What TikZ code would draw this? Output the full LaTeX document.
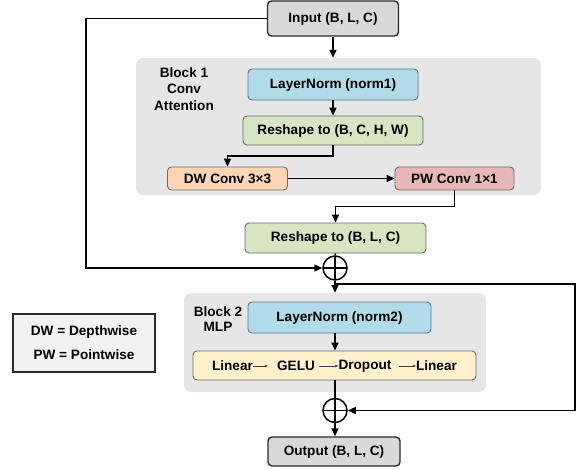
\documentclass[tikz,border=0pt]{standalone}
\usepackage{fontspec}
\setmainfont{Liberation Sans}
\usetikzlibrary{arrows.meta,calc}
\definecolor{ioFill}{HTML}{D9D9D9}
\definecolor{ioDraw}{HTML}{2B2B2B}
\definecolor{bgFill}{HTML}{E6E6E6}
\definecolor{normFill}{HTML}{B1DBE7}
\definecolor{normDraw}{HTML}{56788A}
\definecolor{rsFill}{HTML}{D8E5C3}
\definecolor{rsDraw}{HTML}{6B6B6B}
\definecolor{dwFill}{HTML}{FCD6B4}
\definecolor{pwFill}{HTML}{E8B8B8}
\definecolor{mlpFill}{HTML}{FFF1CC}
\definecolor{legFill}{HTML}{F2F2F2}
\tikzset{
  txt/.style={font=\fontsize{13.6}{16}\selectfont\bfseries, text=black},
  box/.style={txt, rounded corners=4pt, inner sep=0pt, line width=0.9pt},
  iobox/.style={box, fill=ioFill, draw=ioDraw, line width=1.4pt},
  bgbox/.style={fill=bgFill, rounded corners=7pt, inner sep=0pt},
  arr/.style={line width=1.5pt, -{Triangle[length=8pt,width=7pt]}},
  ln/.style={line width=1.5pt},
  sarr/.style={line width=0.6pt, draw=black!75, -{Triangle[length=3pt,width=2.5pt]}},
  plusnode/.style={circle, draw, line width=1.5pt, minimum size=24pt, inner sep=0pt, path picture={
    \draw[line width=1.5pt] (path picture bounding box.north) -- (path picture bounding box.south)
      (path picture bounding box.west) -- (path picture bounding box.east);}},
}
\begin{document}
\begin{tikzpicture}[x=1pt,y=-1pt]
\useasboundingbox (0,0) rectangle (578,469);
% backgrounds
\node[bgbox, minimum width=405pt, minimum height=137pt] (blk1) at (338.5,126.5) {};
\node[bgbox, minimum width=302pt, minimum height=99pt] (blk2) at (335,342.5) {};
\node[txt, align=center, font=\fontsize{13.6}{16.5}\selectfont\bfseries] (lab1) at (184,89) {Block 1\\Conv\\Attention};
\node[txt, align=center, font=\fontsize{13.6}{15}\selectfont\bfseries] (lab2) at (218,319.5) {Block 2\\MLP};
% boxes
\node[iobox, minimum width=131pt, minimum height=35pt] (input) at (333,18.5) {Input (B, L, C)};
\node[box, fill=normFill, draw=normDraw, minimum width=170pt, minimum height=31pt] (norm1) at (333,84.5) {LayerNorm (norm1)};
\node[box, fill=rsFill, draw=rsDraw, minimum width=180pt, minimum height=29pt] (rs1) at (333,130.5) {Reshape to (B, C, H, W)};
\node[box, fill=dwFill, draw=rsDraw, minimum width=120pt, minimum height=23pt] (dw) at (227.5,178.5) {DW Conv 3×3};
\node[box, fill=pwFill, draw=rsDraw, minimum width=119pt, minimum height=23pt] (pw) at (454.5,178.5) {PW Conv 1×1};
\node[box, fill=rsFill, draw=rsDraw, minimum width=181pt, minimum height=30pt] (rs2) at (335.5,238) {Reshape to (B, L, C)};
\node[plusnode] (plus1) at (335,268) {};
\node[box, fill=normFill, draw=normDraw, minimum width=183pt, minimum height=31pt] (norm2) at (339.5,317.5) {LayerNorm (norm2)};
\node[box, fill=mlpFill, draw=rsDraw, minimum width=283pt, minimum height=29pt] (mlp) at (334.5,365.5) {};
\node[txt, inner sep=0pt] (l1) at (232.5,366) {Linear};
\node[txt, inner sep=0pt] (gelu) at (296,366) {GELU};
\node[txt, inner sep=0pt] (drop) at (365,366) {Dropout};
\node[txt, inner sep=0pt] (l2) at (436.5,366) {Linear};
\node[plusnode] (plus2) at (335,410.5) {};
\node[iobox, minimum width=132pt, minimum height=29pt] (output) at (334,451.5) {Output (B, L, C)};
\node[txt, draw=ioDraw, fill=legFill, line width=1.5pt, inner sep=0pt, minimum width=142pt, minimum height=58pt, align=center, font=\fontsize{13.6}{24}\selectfont\bfseries] (legend) at (84,343) {DW = Depthwise\\PW = Pointwise};
% connectors
\coordinate (skipL) at (86,18.5);
\coordinate (skipB) at (86,268);
\draw[arr] (input.west) -- (skipL) -- (skipB) -- (plus1.west);
\draw[arr] (input.south) -- (input.south |- blk1.north);
\draw[arr] (norm1.south) -- (rs1.north);
\draw[arr] (rs1.south) -- ++(0,10.5) -| (dw.north);
\draw[arr] (dw.east) -- (pw.west);
\draw[arr] (pw.south) -- ++(0,16) -| (rs2.north);
\draw[ln] (rs2.south) -- (plus1.north);
\draw[arr] (plus1.south) -- (plus1.south |- blk2.north);
\coordinate (br) at (335,284);
\coordinate (brR) at (575,284);
\coordinate (brB) at (575,410.5);
\draw[arr] (br) -- (brR) -- (brB) -- (plus2.east);
\draw[arr] (plus1 |- norm2.south) -- (plus1 |- mlp.north);
\draw[ln] (mlp.south -| plus2) -- (plus2.north);
\draw[arr] (plus2.south) -- (output.north -| plus2);
\draw[sarr, shorten >=9pt] (l1.east) -- (gelu.west);
\draw[sarr, shorten <=4pt] (gelu.east) -- (drop.west);
\draw[sarr, shorten <=7pt] (drop.east) -- (l2.west);
\end{tikzpicture}
\end{document}
